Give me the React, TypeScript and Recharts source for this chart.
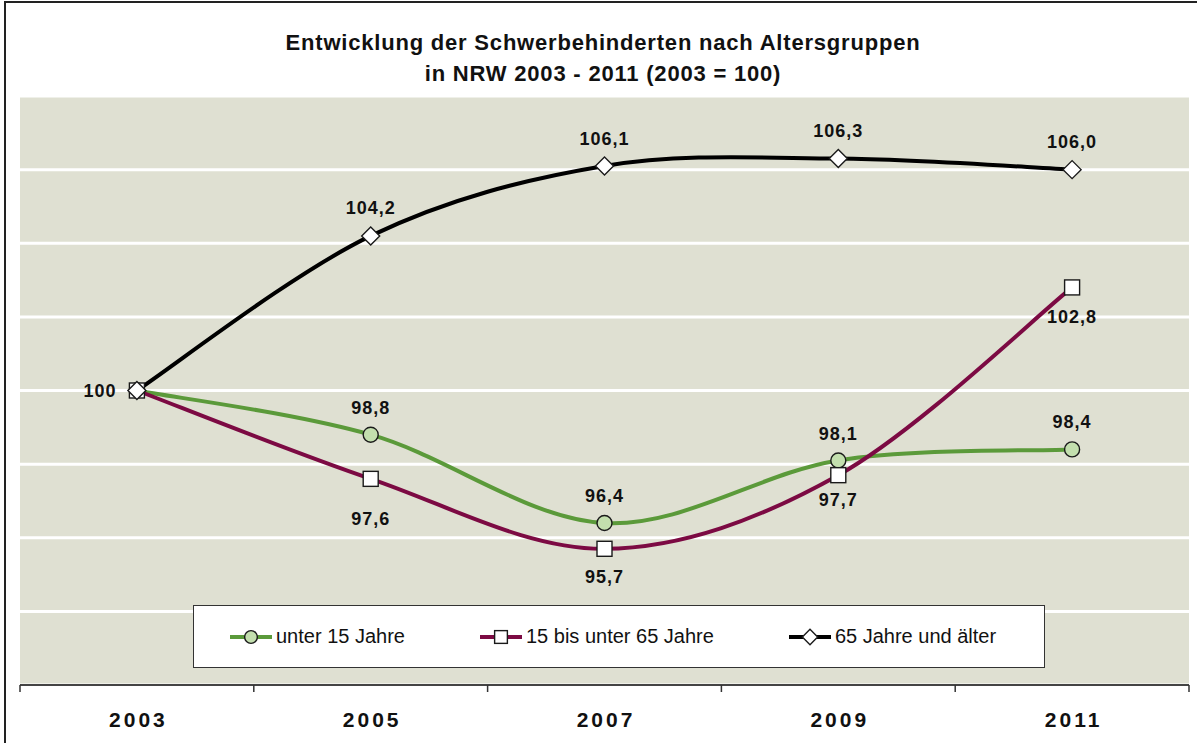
import React from 'react';
import {
  LineChart,
  Line,
  XAxis,
  YAxis,
  CartesianGrid,
  Legend,
  LabelList,
} from 'recharts';

// Werte (2003 = 100)
const years = ['2003', '2005', '2007', '2009', '2011'];
const unter15 = [100, 98.8, 96.4, 98.1, 98.4];
const bis65 = [100, 97.6, 95.7, 97.7, 102.8];
const ab65 = [100, 104.2, 106.1, 106.3, 106.0];
const seriesKeys = ['unter15', 'bis65', 'ab65'];
const seriesNames = ['unter 15 Jahre', '15 bis unter 65 Jahre', '65 Jahre und älter'];
const yTicks = [94, 96, 98, 100, 102, 104, 106];

const data = years.map((year, i) => ({
  year,
  unter15: unter15[i],
  bis65: bis65[i],
  ab65: ab65[i],
}));

const W = 1197;
const H = 743;
const MARGIN = { top: 96, right: 8, left: 20, bottom: 0 };
const XAXIS_H = 58;
const PLOT_BOTTOM = H - MARGIN.bottom - XAXIS_H;
const BAND = (W - MARGIN.left - MARGIN.right) / years.length;

const FONT = '"Liberation Sans", Arial, sans-serif';

const GREEN = '#5b9a3a';
const MAROON = '#7c0a43';
const BLACK = '#000000';
const shapes = ['circle', 'square', 'diamond'];

// Excel-artige Glättung (Bezier mit Catmull-Rom-Tangenten)
const excelCurve = (context: any) => {
  let pts: number[][] = [];
  return {
    areaStart() {},
    areaEnd() {},
    lineStart() {
      pts = [];
    },
    point(x: number, y: number) {
      pts.push([+x, +y]);
    },
    lineEnd() {
      if (!pts.length) return;
      context.moveTo(pts[0][0], pts[0][1]);
      for (let i = 0; i < pts.length - 1; i++) {
        const p0 = pts[i - 1] || pts[i];
        const p1 = pts[i];
        const p2 = pts[i + 1];
        const p3 = pts[i + 2] || p2;
        context.bezierCurveTo(
          p1[0] + (p2[0] - p0[0]) / 6,
          p1[1] + (p2[1] - p0[1]) / 6,
          p2[0] - (p3[0] - p1[0]) / 6,
          p2[1] - (p3[1] - p1[1]) / 6,
          p2[0],
          p2[1]
        );
      }
    },
  };
};

const Marker = ({ cx, cy, shape, s = 1 }: { cx: number; cy: number; shape: string; s?: number }) => {
  if (cx == null || cy == null) return null;
  if (shape === 'circle') {
    return <circle cx={cx} cy={cy} r={7.5 * s} fill="#c3dfae" stroke="#1a1a1a" strokeWidth={1.4} />;
  }
  if (shape === 'square') {
    const h = 7.5 * s;
    return <rect x={cx - h} y={cy - h} width={2 * h} height={2 * h} fill="#fff" stroke="#1a1a1a" strokeWidth={1.4} />;
  }
  const d = 9 * s;
  return (
    <polygon
      points={`${cx},${cy - d} ${cx + d},${cy} ${cx},${cy + d} ${cx - d},${cy}`}
      fill="#fff"
      stroke="#1a1a1a"
      strokeWidth={1.4}
    />
  );
};

const fmt = (v: number) => (v === 100 ? '100' : v.toFixed(1).replace('.', ','));

const makeLabel = (dys: number[], showFirst: boolean) => (p: any) => {
  const { x, y, value, index } = p;
  if (index === 0 && !showFirst) return null;
  const dx = index === 0 ? -37 : 0;
  const dy = index === 0 ? 0 : dys[index];
  return (
    <text
      key={`l${index}`}
      x={x + dx}
      y={y + dy}
      dy="0.36em"
      textAnchor="middle"
      fontFamily={FONT}
      fontSize={18}
      fontWeight="bold"
      letterSpacing={1}
      fill="#111"
    >
      {fmt(value)}
    </text>
  );
};

const YearTick = (props: any) => {
  const { x, payload, index } = props;
  return (
    <g>
      <line x1={x - BAND / 2} x2={x - BAND / 2} y1={PLOT_BOTTOM} y2={PLOT_BOTTOM + 7} stroke="#333" strokeWidth={1.5} />
      {index === years.length - 1 && (
        <line x1={x + BAND / 2} x2={x + BAND / 2} y1={PLOT_BOTTOM} y2={PLOT_BOTTOM + 7} stroke="#333" strokeWidth={1.5} />
      )}
      <text
        x={x + 1.5}
        y={PLOT_BOTTOM + 42}
        textAnchor="middle"
        fontFamily={FONT}
        fontSize={21}
        fontWeight="bold"
        letterSpacing={3}
        fill="#111"
      >
        {payload.value}
      </text>
    </g>
  );
};

const renderLegend = (props: any) => {
  const payload = props.payload || [];
  return (
    <div
      style={{
        width: 852,
        height: 63,
        boxSizing: 'border-box',
        background: '#fff',
        border: '1px solid #333',
        display: 'flex',
        alignItems: 'center',
        paddingLeft: 36,
        gap: 75,
      }}
    >
      {seriesKeys.map((key, i) => {
        const entry = payload.find((e: any) => e.dataKey === key) || {};
        return (
          <div key={key} style={{ display: 'flex', alignItems: 'center', height: 24 }}>
            <svg width={42} height={20} style={{ display: 'block' }}>
              <line x1={0} x2={42} y1={10} y2={10} stroke={entry.color} strokeWidth={4} />
              <Marker cx={21} cy={10} shape={shapes[i]} s={0.85} />
            </svg>
            <span style={{ fontFamily: FONT, fontSize: 20, color: '#111', marginLeft: 4, whiteSpace: 'nowrap' }}>
              {entry.value || seriesNames[i]}
            </span>
          </div>
        );
      })}
    </div>
  );
};

export default function App() {
  return (
    <div style={{ position: 'absolute', left: 0, top: 0, width: W, height: H, overflow: 'hidden', background: '#fff' }}>
      <div
        style={{
          position: 'absolute',
          left: 4,
          top: 1,
          width: W + 20,
          height: H + 20,
          border: '2px solid #222',
        }}
      />
      <div
        style={{
          position: 'absolute',
          left: 0,
          top: 27,
          width: 1206,
          textAlign: 'center',
          fontFamily: FONT,
          fontWeight: 'bold',
          fontSize: 22,
          letterSpacing: 0.8,
          lineHeight: '31px',
          color: '#111',
        }}
      >
        <div>Entwicklung der Schwerbehinderten nach Altersgruppen</div>
        <div>in NRW 2003 - 2011 (2003 = 100)</div>
      </div>
      <div style={{ position: 'absolute', left: 0, top: 0 }}>
        <LineChart width={W} height={H} data={data} margin={MARGIN}>
          <CartesianGrid vertical={false} stroke="#fff" strokeWidth={3} fill="#dfe0d2" fillOpacity={1} />
          <XAxis
            dataKey="year"
            scale="band"
            height={XAXIS_H}
            axisLine={{ stroke: '#444', strokeWidth: 2 }}
            tickLine={false}
            tick={<YearTick />}
            interval={0}
          />
          <YAxis hide type="number" domain={[92, 108]} ticks={yTicks} />
          <Legend
            verticalAlign="middle"
            align="center"
            layout="horizontal"
            wrapperStyle={{ left: 193, top: 605, width: 852, height: 63 }}
            content={renderLegend}
          />
          <Line
            dataKey="unter15"
            name={seriesNames[0]}
            type={excelCurve as any}
            stroke={GREEN}
            strokeWidth={4}
            dot={(p: any) => <Marker key={`g${p.index}`} cx={p.cx} cy={p.cy} shape="circle" />}
            activeDot={false}
            isAnimationActive={false}
          >
            <LabelList dataKey="unter15" content={makeLabel([0, -27, -28, -27, -28], false)} />
          </Line>
          <Line
            dataKey="bis65"
            name={seriesNames[1]}
            type={excelCurve as any}
            stroke={MAROON}
            strokeWidth={4}
            dot={(p: any) => <Marker key={`m${p.index}`} cx={p.cx} cy={p.cy} shape="square" />}
            activeDot={false}
            isAnimationActive={false}
          >
            <LabelList dataKey="bis65" content={makeLabel([0, 40, 28, 24, 29], false)} />
          </Line>
          <Line
            dataKey="ab65"
            name={seriesNames[2]}
            type={excelCurve as any}
            stroke={BLACK}
            strokeWidth={4}
            dot={(p: any) => <Marker key={`b${p.index}`} cx={p.cx} cy={p.cy} shape="diamond" />}
            activeDot={false}
            isAnimationActive={false}
          >
            <LabelList dataKey="ab65" content={makeLabel([0, -28, -27, -28, -28], true)} />
          </Line>
        </LineChart>
      </div>
    </div>
  );
}
